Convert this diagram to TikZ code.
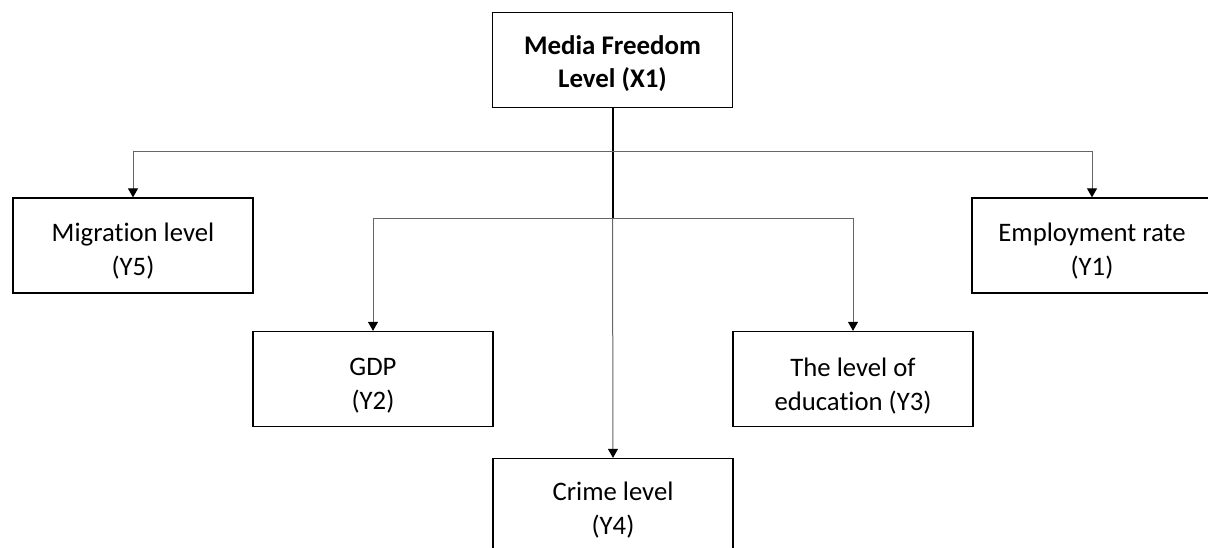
\documentclass[tikz,border=0pt]{standalone}
\usepackage{fontspec}
\setmainfont[Ligatures={NoCommon}]{Carlito}
\usetikzlibrary{arrows.meta}
\begin{document}
\begin{tikzpicture}[x=1pt,y=-1pt,
  box/.style={draw=black,line width=1.3pt,minimum width=240pt,minimum height=95pt,inner sep=0pt},
  txt/.style={inner sep=0pt,align=center,font=\fontsize{26.7}{34}\selectfont},
  trunk/.style={draw=black,line width=2pt},
  branch/.style={draw=black!60,line width=1pt,-{Triangle[length=9pt,width=10pt,fill=black,color=black]}}]
  \useasboundingbox (0,0) rectangle (1208,548);

  % boxes
  \node[box] (x1) at (612.5,60) {};
  \node[box] (y5) at (133,245.5) {};
  \node[box] (y1) at (1092,245.5) {};
  \node[box] (y2) at (373,379) {};
  \node[box] (y3) at (853,379) {};
  \node[box] (y4) at (613,506) {};

  % box captions
  \node[txt,font=\fontsize{26.9}{33}\selectfont\bfseries] (x1t) at ([yshift=-4pt]x1.center) {Media Freedom\\Level (X1)};
  \node[txt] (y5t) at ([yshift=-6pt]y5.center) {Migration level\\(Y5)};
  \node[txt] (y1t) at ([yshift=-6pt]y1.center) {Employment rate\\(Y1)};
  \node[txt] (y2t) at ([yshift=-7pt]y2.center) {GDP\\(Y2)};
  \node[txt] (y3t) at ([yshift=-7pt]y3.center) {The level of\\education (Y3)};
  \node[txt] (y4t) at ([yshift=-4pt]y4.center) {Crime level\\(Y4)};

  % junction points on the trunk
  \coordinate (j1) at (612.5,152);
  \coordinate (j2) at (612.5,219);

  \draw[branch] (j2) -- (y4.north);
  \draw[trunk] (x1.south) -- (j2);
  \draw[branch] (j1) -| (y5.north);
  \draw[branch] (j1) -| (y1.north);
  \draw[branch] (j2) -| (y2.north);
  \draw[branch] (j2) -| (y3.north);
\end{tikzpicture}
\end{document}
